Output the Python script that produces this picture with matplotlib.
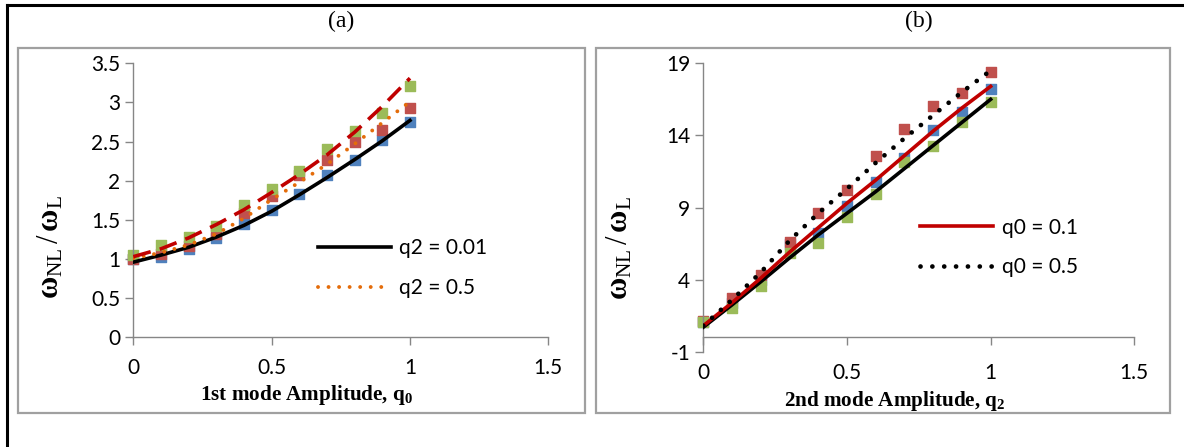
import matplotlib
matplotlib.use('Agg')
import matplotlib.pyplot as plt
from matplotlib.lines import Line2D
from matplotlib.patches import Rectangle

plt.rcParams['font.family'] = ['Lato', 'DejaVu Sans']
plt.rcParams['mathtext.fontset'] = 'custom'
plt.rcParams['mathtext.rm'] = 'Liberation Serif'
plt.rcParams['mathtext.bf'] = 'Liberation Serif:bold'
plt.rcParams['mathtext.it'] = 'Liberation Serif:italic'

# amplitudes (x) shared by both panels
amp = [0, 0.1, 0.2, 0.3, 0.4, 0.5, 0.6, 0.7, 0.8, 0.9, 1.0]

# (a) frequency ratio vs 1st mode amplitude q0
a_blue = [1.0, 1.03, 1.125, 1.27, 1.445, 1.62, 1.83, 2.07, 2.26, 2.52, 2.745]
a_red = [1.0, 1.06, 1.17, 1.32, 1.59, 1.81, 2.07, 2.26, 2.49, 2.65, 2.93]
a_green = [1.05, 1.18, 1.28, 1.42, 1.69, 1.90, 2.13, 2.40, 2.64, 2.86, 3.205]
a_q2_001 = [0.96, 1.05, 1.15, 1.28, 1.43, 1.61, 1.82, 2.04, 2.27, 2.51, 2.77]
a_q2_05 = [1.01, 1.08, 1.18, 1.32, 1.52, 1.76, 1.98, 2.21, 2.47, 2.74, 3.01]
a_q2_1 = [1.03, 1.13, 1.27, 1.44, 1.63, 1.85, 2.08, 2.33, 2.62, 2.95, 3.31]

# (b) frequency ratio vs 2nd mode amplitude q2
b_blue = [1.03, 2.4, 4.0, 6.48, 7.2, 9.07, 10.8, 12.4, 14.38, 15.65, 17.2]
b_red = [1.1, 2.72, 4.33, 6.6, 8.6, 10.22, 12.58, 14.43, 16.04, 16.97, 18.38]
b_green = [1.03, 2.03, 3.53, 5.84, 6.57, 8.37, 9.92, 12.19, 13.27, 14.96, 16.34]
b_q0_01 = [0.8, 2.4, 4.1, 5.9, 7.6, 9.3, 10.9, 12.6, 14.3, 15.9, 17.4]
b_q0_05 = [0.8, 2.6, 4.5, 6.7, 8.6, 10.3, 12.1, 13.8, 15.4, 17.0, 18.5]
b_q0_001 = [0.7, 2.25, 3.85, 5.5, 7.1, 8.6, 10.1, 11.7, 13.3, 14.9, 16.5]

blue, red, green = '#4F81BD', '#C0504D', '#9BBB59'
axis_gray = '#868686'

fig = plt.figure(figsize=(11.84, 4.47), dpi=100)
W, H = 1184, 447


def px_box(x0, y0, x1, y1):
    return [x0 / W, 1 - y1 / H, (x1 - x0) / W, (y1 - y0) / H]


# outer frame and the two chart boxes
fig.add_artist(Line2D([7 / W, 7 / W], [0, 1 - 5 / H], color='black', lw=2.2))
fig.add_artist(Line2D([7 / W, 1], [1 - 5 / H, 1 - 5 / H], color='black', lw=2.2))
for x0, x1 in [(18, 585), (596, 1170)]:
    fig.add_artist(Rectangle((x0 / W, 1 - 413 / H), (x1 - x0) / W, 365 / H,
                             transform=fig.transFigure, fill=False,
                             edgecolor='#a0a0a0', lw=1.6))

ax1 = fig.add_axes(px_box(133.3, 63.3, 548.3, 337.3))
ax2 = fig.add_axes(px_box(703.3, 63.3, 1134.3, 351.7))

ylab = r'$\mathbf{\omega}_{\mathrm{NL}}\,/\,\mathbf{\omega}_{\mathrm{L}}$'

for ax in (ax1, ax2):
    for side in ('top', 'right'):
        ax.spines[side].set_visible(False)
    for side in ('left', 'bottom'):
        ax.spines[side].set_color(axis_gray)
        ax.spines[side].set_linewidth(1.0)
    ax.tick_params(color=axis_gray, length=6, width=1.0, labelsize=15)
    ax.set_xlim(0, 1.5)
    ax.set_xticks([0, 0.5, 1, 1.5])
    ax.set_xticklabels(['0', '0.5', '1', '1.5'])

# ---- panel (a)
ax1.scatter(amp, a_blue, marker='s', s=55, color=blue, zorder=2, clip_on=False)
ax1.scatter(amp, a_red, marker='s', s=55, color=red, zorder=2, clip_on=False)
ax1.scatter(amp, a_green, marker='s', s=55, color=green, zorder=2, clip_on=False)
l1, = ax1.plot(amp, a_q2_001, color='black', lw=2.6, zorder=3, label='q2 = 0.01')
l2, = ax1.plot(amp, a_q2_05, color='#E46C0A', lw=2.8, ls=(0, (0.01, 2.7)),
               dash_capstyle='round', zorder=3, label='q2 = 0.5')
ax1.plot(amp, a_q2_1, color='#C00000', lw=2.6, ls=(0, (5.0, 2.6)), zorder=3)
ax1.set_ylim(0, 3.5)
ax1.set_yticks([0, 0.5, 1, 1.5, 2, 2.5, 3, 3.5])
ax1.set_yticklabels(['0', '0.5', '1', '1.5', '2', '2.5', '3', '3.5'])
ax1.tick_params(axis='x', pad=9)
ax1.set_xlabel('1st mode Amplitude, q$_\\mathbf{0}$', fontfamily='Liberation Serif',
               fontweight='bold', fontsize=15.2)
ax1.xaxis.set_label_coords(0.4186, -0.165)
ax1.set_ylabel(ylab, fontsize=22)
ax1.yaxis.set_label_coords(-0.165, 0.33)
ax1.legend(handles=[l1, l2], loc='upper left', bbox_to_anchor=(0.40, 0.43),
           frameon=False, fontsize=15, handlelength=3.5, labelspacing=0.95,
           handletextpad=0.4)
ax1.set_title('(a)', fontfamily='Liberation Serif', fontsize=17, pad=26)

# ---- panel (b)
ax2.spines['bottom'].set_position(('data', 0))
ax2.scatter(amp, b_blue, marker='s', s=55, color=blue, zorder=2, clip_on=False)
ax2.scatter(amp, b_red, marker='s', s=55, color=red, zorder=2, clip_on=False)
ax2.scatter(amp, b_green, marker='s', s=55, color=green, zorder=2, clip_on=False)
ax2.plot(amp, b_q0_001, color='black', lw=2.6, zorder=3)
m1, = ax2.plot(amp, b_q0_01, color='#C00000', lw=2.6, zorder=3, label='q0 = 0.1')
m2, = ax2.plot(amp, b_q0_05, color='black', lw=3.4, ls=(0, (0.01, 2.5)),
               dash_capstyle='round', zorder=3, label='q0 = 0.5')
ax2.set_ylim(-1, 19)
ax2.set_yticks([-1, 4, 9, 14, 19])
ax2.set_yticklabels(['-1', '4', '9', '14', '19'])
ax2.tick_params(axis='x', pad=12.5)
ax2.set_xlabel('2nd mode Amplitude, q$_\\mathbf{2}$', fontfamily='Liberation Serif',
               fontweight='bold', fontsize=15.2)
ax2.xaxis.set_label_coords(0.445, -0.13)
ax2.set_ylabel(ylab, fontsize=22)
ax2.yaxis.set_label_coords(-0.16, 0.36)
ax2.legend(handles=[m1, m2], loc='upper left', bbox_to_anchor=(0.46, 0.53),
           frameon=False, fontsize=15, handlelength=3.5, labelspacing=0.95,
           handletextpad=0.4)
ax2.set_title('(b)', fontfamily='Liberation Serif', fontsize=17, pad=26)

fig.savefig('out.png', dpi=100)
